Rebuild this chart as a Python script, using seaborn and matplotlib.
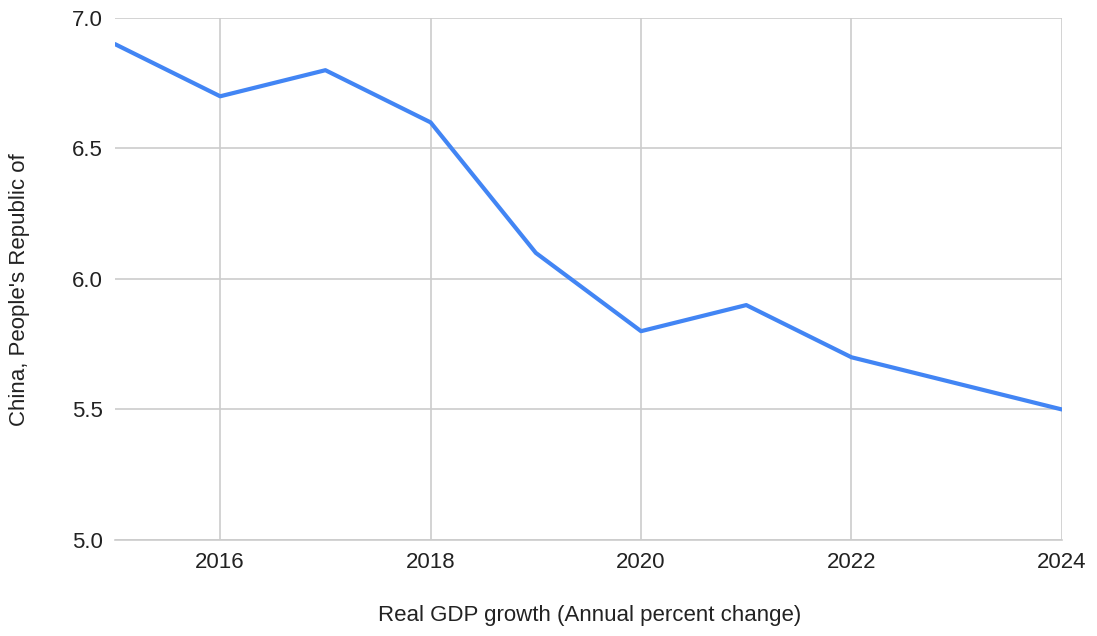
import matplotlib
matplotlib.use("Agg")
import matplotlib.pyplot as plt
import seaborn as sns
import pandas as pd

years = [2015, 2016, 2017, 2018, 2019, 2020, 2021, 2022, 2023, 2024]
gdp_growth = [6.9, 6.7, 6.8, 6.6, 6.1, 5.8, 5.9, 5.7, 5.6, 5.5]
x_ticks = [2016, 2018, 2020, 2022, 2024]
y_ticks = [5.0, 5.5, 6.0, 6.5, 7.0]

sns.set_theme(style="white")
plt.rcParams['font.family'] = ['Liberation Sans', 'DejaVu Sans']

df = pd.DataFrame({"year": years, "value": gdp_growth})

fig = plt.figure(figsize=(10.97, 6.36), dpi=100)
ax = fig.add_axes([0.1048, 0.151, 0.968 - 0.1048, 0.9717 - 0.151])
sns.lineplot(data=df, x="year", y="value", ax=ax, color="#4285F4", linewidth=3)

ax.set_xlim(2015, 2024)
ax.set_ylim(5.0, 7.0)
ax.set_xticks(x_ticks)
ax.set_xticklabels([str(t) for t in x_ticks])
ax.set_yticks(y_ticks)
ax.set_yticklabels([f"{t:.1f}" for t in y_ticks])
ax.grid(True, color="#cccccc", linewidth=1.2)
ax.set_axisbelow(True)
for s in ["top", "left", "right"]:
    ax.spines[s].set_visible(False)
ax.spines["bottom"].set_color("#cccccc")
ax.spines["bottom"].set_linewidth(1.2)
ax.tick_params(axis="both", length=0, labelsize=16, colors="#222222")
ax.tick_params(axis="x", pad=9)
ax.tick_params(axis="y", pad=9)
ax.set_xlabel("")
ax.set_ylabel("")
fig.text(590 / 1097, 1 - 615 / 636, "Real GDP growth (Annual percent change)",
         ha="center", va="center", fontsize=16, color="#222222")
fig.text(20 / 1097, 1 - 290 / 636, "China, People's Republic of", rotation=90,
         ha="center", va="center", fontsize=16, color="#222222")

fig.savefig("out.png", dpi=100, facecolor="white")
